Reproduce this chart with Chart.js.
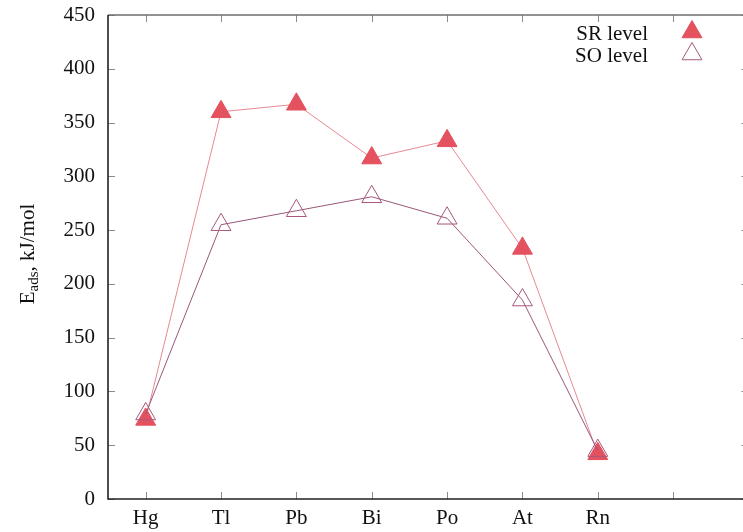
<!DOCTYPE html>
<html>
<head>
<meta charset="utf-8">
<script src="https://cdn.jsdelivr.net/npm/chart.js@4.4.1/dist/chart.umd.min.js"></script>
<style>
    html, body { margin: 0; padding: 0; background: #fff; overflow: hidden; width: 743px; height: 532px; }
    #wrap { width: 761px; height: 532px; }
</style>
</head>
<body>
<div id="wrap"><canvas id="adsChart"></canvas></div>
<script>
// Adsorption energies
const elements = ["Hg", "Tl", "Pb", "Bi", "Po", "At", "Rn", ""];
const srLevel = [74, 360, 367, 317, 333, 233, 42];
const soLevel = [79, 255, 268, 281, 261, 185, 45];
const yTicks = [0, 50, 100, 150, 200, 250, 300, 350, 400, 450];

const serif = "'Liberation Serif', 'DejaVu Serif', serif";
const srFill = "#e4515f";
const srLine = "#e68891";
const soEdge = "#a6587c";
const soLine = "#9a5679";

function toPoints(values) {
    return values.map((v, i) => ({ x: i, y: v }));
}

// frame with inward (mirrored) ticks, like gnuplot
const framePlugin = {
    id: "frame",
    beforeDatasetsDraw(chart) {
        const { ctx, chartArea: a, scales } = chart;
        ctx.save();
        ctx.lineWidth = 1;
        ctx.strokeStyle = "#8a8a8a";
        ctx.beginPath();
        scales.x.ticks.forEach(t => {
            const px = Math.round(scales.x.getPixelForValue(t.value)) + 0.5;
            ctx.moveTo(px, a.bottom); ctx.lineTo(px, a.bottom - 7);
            ctx.moveTo(px, a.top); ctx.lineTo(px, a.top + 7);
        });
        scales.y.ticks.forEach(t => {
            const py = Math.round(scales.y.getPixelForValue(t.value)) + 0.5;
            ctx.moveTo(a.left, py); ctx.lineTo(a.left + 7, py);
            ctx.moveTo(a.right, py); ctx.lineTo(a.right - 7, py);
        });
        ctx.stroke();

        ctx.lineWidth = 1.6;
        ctx.strokeStyle = "#6f6f6f";
        ctx.beginPath();
        ctx.moveTo(a.left, a.top); ctx.lineTo(a.right, a.top); ctx.lineTo(a.right, a.bottom);
        ctx.stroke();
        ctx.strokeStyle = "#222";
        ctx.beginPath();
        ctx.moveTo(a.left, a.top); ctx.lineTo(a.left, a.bottom); ctx.lineTo(a.right, a.bottom);
        ctx.stroke();
        ctx.restore();
    },
    afterDraw(chart) {
        const { ctx, chartArea: a } = chart;
        ctx.save();
        // y axis title with subscript
        ctx.translate(27, (a.top + a.bottom) / 2 - 3);
        ctx.rotate(-Math.PI / 2);
        ctx.fillStyle = "#111";
        ctx.textBaseline = "alphabetic";
        const big = "21px " + serif, small = "15px " + serif;
        ctx.font = big; const wE = ctx.measureText("E").width;
        ctx.font = small; const wS = ctx.measureText("ads").width;
        ctx.font = big; const wR = ctx.measureText(", kJ/mol").width;
        let x = -(wE + wS + wR) / 2;
        const base = 7;
        ctx.font = big; ctx.fillText("E", x, base); x += wE;
        ctx.font = small; ctx.fillText("ads", x, base + 4); x += wS;
        ctx.font = big; ctx.fillText(", kJ/mol", x, base);
        ctx.restore();

        // legend: text on the left, marker on the right
        ctx.save();
        ctx.font = "21px " + serif;
        ctx.fillStyle = "#111";
        ctx.textAlign = "right";
        ctx.textBaseline = "alphabetic";
        chart.data.datasets.slice().reverse().forEach((ds, i) => {
            const ty = 40 + i * 22;
            ctx.fillText(ds.label, 648, ty);
            ctx.fillStyle = ds.pointBackgroundColor;
            ctx.strokeStyle = ds.pointBorderColor;
            ctx.lineWidth = 1;
            Chart.helpers.drawPoint(ctx, { pointStyle: "triangle", radius: 11.5, rotation: 0, borderWidth: 1 }, 692, ty - 8);
            ctx.fillStyle = "#111";
        });
        ctx.restore();
    }
};

const ctx = document.getElementById("adsChart").getContext("2d");
new Chart(ctx, {
    type: "line",
    data: {
        datasets: [
            {
                label: "SO level",
                data: toPoints(soLevel),
                borderColor: soLine,
                borderWidth: 1,
                pointStyle: "triangle",
                pointRadius: 11.5,
                pointBackgroundColor: "rgba(255,255,255,0)",
                pointBorderColor: soEdge,
                pointBorderWidth: 1,
                order: 1
            },
            {
                label: "SR level",
                data: toPoints(srLevel),
                borderColor: srLine,
                borderWidth: 1,
                pointStyle: "triangle",
                pointRadius: 11.5,
                pointBackgroundColor: srFill,
                pointBorderColor: srFill,
                pointBorderWidth: 1,
                order: 2
            }
        ]
    },
    options: {
        responsive: true,
        maintainAspectRatio: false,
        animation: false,
        layout: { padding: { top: 15, right: 2, left: 0, bottom: 0 } },
        plugins: { legend: { display: false }, tooltip: { enabled: false } },
        scales: {
            x: {
                type: "linear",
                min: -0.5,
                max: 8,
                grid: { display: false, drawTicks: false },
                border: { display: false },
                afterBuildTicks: s => { s.ticks = elements.map((e, i) => ({ value: i })); },
                afterFit: s => { s.height = 33; s.paddingLeft = 0; s.paddingRight = 0; },
                ticks: {
                    padding: 7,
                    color: "#111",
                    font: { family: serif, size: 21 },
                    maxRotation: 0,
                    autoSkip: false,
                    callback: v => elements[v] ?? ""
                }
            },
            y: {
                min: 0,
                max: 450,
                grid: { display: false, drawTicks: false },
                border: { display: false },
                afterBuildTicks: s => { s.ticks = yTicks.map(v => ({ value: v })); },
                afterFit: s => { s.width = 108; s.paddingTop = 0; s.paddingBottom = 0; },
                ticks: {
                    padding: 13,
                    color: "#111",
                    font: { family: serif, size: 21 }
                }
            }
        }
    },
    plugins: [framePlugin]
});
</script>
</body>
</html>
